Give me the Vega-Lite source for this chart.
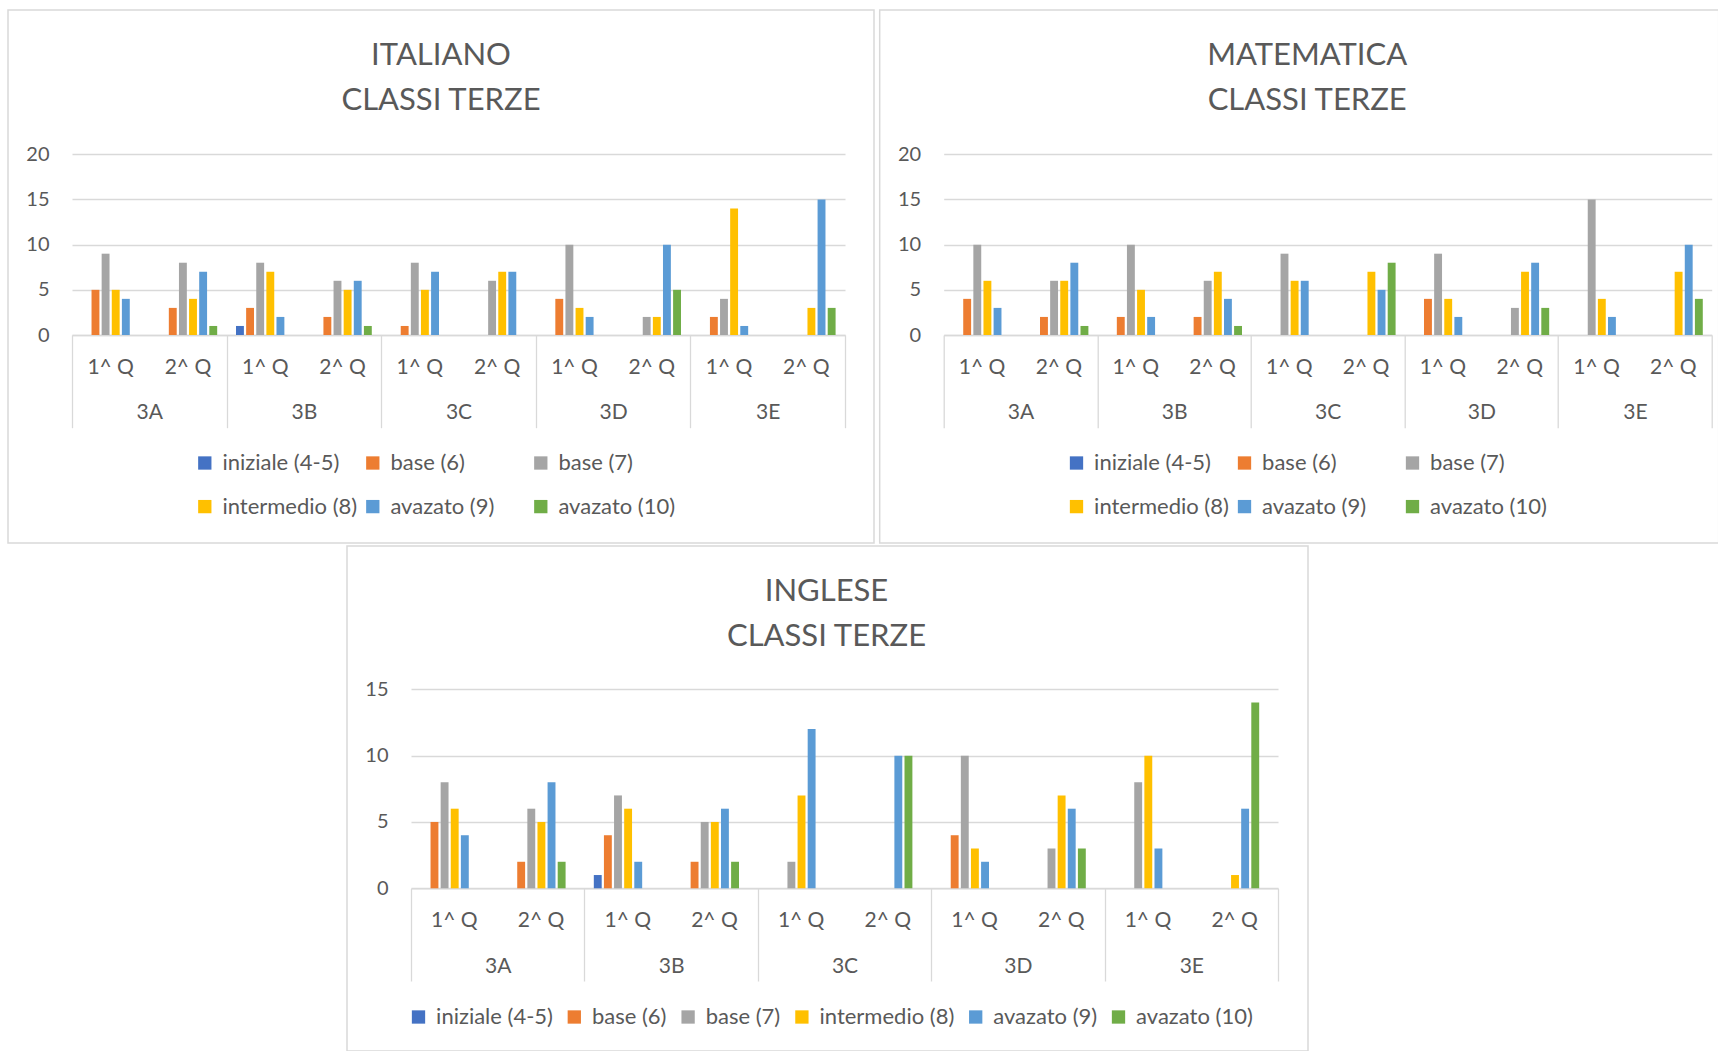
{
  "$schema": "https://vega.github.io/schema/vega-lite/v6.json",
  "background": "white",
  "padding": {"left": 7, "top": 9, "right": 0, "bottom": 0},
  "config": {
    "font": "Lato",
    "view": {"stroke": "#d9d9d9", "strokeWidth": 1.5},
    "axis": {"labelColor": "#595959", "labelFontSize": 21, "gridColor": "#d9d9d9", "gridWidth": 1.3, "domainColor": "#d9d9d9", "domainWidth": 1.3, "tickColor": "#d9d9d9", "tickWidth": 1.3, "labelAngle": 0, "labelOverlap": false, "title": null},
    "axisY": {"labelFontSize": 20},
    "title": {"fontSize": 31, "fontWeight": "normal", "color": "#595959", "anchor": "middle", "frame": "group", "baseline": "top", "offset": -106.5, "lineHeight": 45},
    "legend": {"title": null, "orient": "none", "direction": "horizontal", "symbolType": "square", "symbolSize": 177, "symbolStrokeWidth": 0, "labelFontSize": 22, "labelColor": "#595959", "labelOffset": 6.6, "padding": 0}
  },
  "datasets": {
    "ita": [
      {"c":"3A","cq":"3A 1^ Q","l":"base (6)","n":5},{"c":"3A","cq":"3A 1^ Q","l":"base (7)","n":9},{"c":"3A","cq":"3A 1^ Q","l":"intermedio (8)","n":5},{"c":"3A","cq":"3A 1^ Q","l":"avazato (9)","n":4},
      {"c":"3A","cq":"3A 2^ Q","l":"base (6)","n":3},{"c":"3A","cq":"3A 2^ Q","l":"base (7)","n":8},{"c":"3A","cq":"3A 2^ Q","l":"intermedio (8)","n":4},{"c":"3A","cq":"3A 2^ Q","l":"avazato (9)","n":7},{"c":"3A","cq":"3A 2^ Q","l":"avazato (10)","n":1},
      {"c":"3B","cq":"3B 1^ Q","l":"iniziale (4-5)","n":1},{"c":"3B","cq":"3B 1^ Q","l":"base (6)","n":3},{"c":"3B","cq":"3B 1^ Q","l":"base (7)","n":8},{"c":"3B","cq":"3B 1^ Q","l":"intermedio (8)","n":7},{"c":"3B","cq":"3B 1^ Q","l":"avazato (9)","n":2},
      {"c":"3B","cq":"3B 2^ Q","l":"base (6)","n":2},{"c":"3B","cq":"3B 2^ Q","l":"base (7)","n":6},{"c":"3B","cq":"3B 2^ Q","l":"intermedio (8)","n":5},{"c":"3B","cq":"3B 2^ Q","l":"avazato (9)","n":6},{"c":"3B","cq":"3B 2^ Q","l":"avazato (10)","n":1},
      {"c":"3C","cq":"3C 1^ Q","l":"base (6)","n":1},{"c":"3C","cq":"3C 1^ Q","l":"base (7)","n":8},{"c":"3C","cq":"3C 1^ Q","l":"intermedio (8)","n":5},{"c":"3C","cq":"3C 1^ Q","l":"avazato (9)","n":7},
      {"c":"3C","cq":"3C 2^ Q","l":"base (7)","n":6},{"c":"3C","cq":"3C 2^ Q","l":"intermedio (8)","n":7},{"c":"3C","cq":"3C 2^ Q","l":"avazato (9)","n":7},
      {"c":"3D","cq":"3D 1^ Q","l":"base (6)","n":4},{"c":"3D","cq":"3D 1^ Q","l":"base (7)","n":10},{"c":"3D","cq":"3D 1^ Q","l":"intermedio (8)","n":3},{"c":"3D","cq":"3D 1^ Q","l":"avazato (9)","n":2},
      {"c":"3D","cq":"3D 2^ Q","l":"base (7)","n":2},{"c":"3D","cq":"3D 2^ Q","l":"intermedio (8)","n":2},{"c":"3D","cq":"3D 2^ Q","l":"avazato (9)","n":10},{"c":"3D","cq":"3D 2^ Q","l":"avazato (10)","n":5},
      {"c":"3E","cq":"3E 1^ Q","l":"base (6)","n":2},{"c":"3E","cq":"3E 1^ Q","l":"base (7)","n":4},{"c":"3E","cq":"3E 1^ Q","l":"intermedio (8)","n":14},{"c":"3E","cq":"3E 1^ Q","l":"avazato (9)","n":1},
      {"c":"3E","cq":"3E 2^ Q","l":"intermedio (8)","n":3},{"c":"3E","cq":"3E 2^ Q","l":"avazato (9)","n":15},{"c":"3E","cq":"3E 2^ Q","l":"avazato (10)","n":3}
    ],
    "mat": [
      {"c":"3A","cq":"3A 1^ Q","l":"base (6)","n":4},{"c":"3A","cq":"3A 1^ Q","l":"base (7)","n":10},{"c":"3A","cq":"3A 1^ Q","l":"intermedio (8)","n":6},{"c":"3A","cq":"3A 1^ Q","l":"avazato (9)","n":3},
      {"c":"3A","cq":"3A 2^ Q","l":"base (6)","n":2},{"c":"3A","cq":"3A 2^ Q","l":"base (7)","n":6},{"c":"3A","cq":"3A 2^ Q","l":"intermedio (8)","n":6},{"c":"3A","cq":"3A 2^ Q","l":"avazato (9)","n":8},{"c":"3A","cq":"3A 2^ Q","l":"avazato (10)","n":1},
      {"c":"3B","cq":"3B 1^ Q","l":"base (6)","n":2},{"c":"3B","cq":"3B 1^ Q","l":"base (7)","n":10},{"c":"3B","cq":"3B 1^ Q","l":"intermedio (8)","n":5},{"c":"3B","cq":"3B 1^ Q","l":"avazato (9)","n":2},
      {"c":"3B","cq":"3B 2^ Q","l":"base (6)","n":2},{"c":"3B","cq":"3B 2^ Q","l":"base (7)","n":6},{"c":"3B","cq":"3B 2^ Q","l":"intermedio (8)","n":7},{"c":"3B","cq":"3B 2^ Q","l":"avazato (9)","n":4},{"c":"3B","cq":"3B 2^ Q","l":"avazato (10)","n":1},
      {"c":"3C","cq":"3C 1^ Q","l":"base (7)","n":9},{"c":"3C","cq":"3C 1^ Q","l":"intermedio (8)","n":6},{"c":"3C","cq":"3C 1^ Q","l":"avazato (9)","n":6},
      {"c":"3C","cq":"3C 2^ Q","l":"intermedio (8)","n":7},{"c":"3C","cq":"3C 2^ Q","l":"avazato (9)","n":5},{"c":"3C","cq":"3C 2^ Q","l":"avazato (10)","n":8},
      {"c":"3D","cq":"3D 1^ Q","l":"base (6)","n":4},{"c":"3D","cq":"3D 1^ Q","l":"base (7)","n":9},{"c":"3D","cq":"3D 1^ Q","l":"intermedio (8)","n":4},{"c":"3D","cq":"3D 1^ Q","l":"avazato (9)","n":2},
      {"c":"3D","cq":"3D 2^ Q","l":"base (7)","n":3},{"c":"3D","cq":"3D 2^ Q","l":"intermedio (8)","n":7},{"c":"3D","cq":"3D 2^ Q","l":"avazato (9)","n":8},{"c":"3D","cq":"3D 2^ Q","l":"avazato (10)","n":3},
      {"c":"3E","cq":"3E 1^ Q","l":"base (7)","n":15},{"c":"3E","cq":"3E 1^ Q","l":"intermedio (8)","n":4},{"c":"3E","cq":"3E 1^ Q","l":"avazato (9)","n":2},
      {"c":"3E","cq":"3E 2^ Q","l":"intermedio (8)","n":7},{"c":"3E","cq":"3E 2^ Q","l":"avazato (9)","n":10},{"c":"3E","cq":"3E 2^ Q","l":"avazato (10)","n":4}
    ],
    "ing": [
      {"c":"3A","cq":"3A 1^ Q","l":"base (6)","n":5},{"c":"3A","cq":"3A 1^ Q","l":"base (7)","n":8},{"c":"3A","cq":"3A 1^ Q","l":"intermedio (8)","n":6},{"c":"3A","cq":"3A 1^ Q","l":"avazato (9)","n":4},
      {"c":"3A","cq":"3A 2^ Q","l":"base (6)","n":2},{"c":"3A","cq":"3A 2^ Q","l":"base (7)","n":6},{"c":"3A","cq":"3A 2^ Q","l":"intermedio (8)","n":5},{"c":"3A","cq":"3A 2^ Q","l":"avazato (9)","n":8},{"c":"3A","cq":"3A 2^ Q","l":"avazato (10)","n":2},
      {"c":"3B","cq":"3B 1^ Q","l":"iniziale (4-5)","n":1},{"c":"3B","cq":"3B 1^ Q","l":"base (6)","n":4},{"c":"3B","cq":"3B 1^ Q","l":"base (7)","n":7},{"c":"3B","cq":"3B 1^ Q","l":"intermedio (8)","n":6},{"c":"3B","cq":"3B 1^ Q","l":"avazato (9)","n":2},
      {"c":"3B","cq":"3B 2^ Q","l":"base (6)","n":2},{"c":"3B","cq":"3B 2^ Q","l":"base (7)","n":5},{"c":"3B","cq":"3B 2^ Q","l":"intermedio (8)","n":5},{"c":"3B","cq":"3B 2^ Q","l":"avazato (9)","n":6},{"c":"3B","cq":"3B 2^ Q","l":"avazato (10)","n":2},
      {"c":"3C","cq":"3C 1^ Q","l":"base (7)","n":2},{"c":"3C","cq":"3C 1^ Q","l":"intermedio (8)","n":7},{"c":"3C","cq":"3C 1^ Q","l":"avazato (9)","n":12},
      {"c":"3C","cq":"3C 2^ Q","l":"avazato (9)","n":10},{"c":"3C","cq":"3C 2^ Q","l":"avazato (10)","n":10},
      {"c":"3D","cq":"3D 1^ Q","l":"base (6)","n":4},{"c":"3D","cq":"3D 1^ Q","l":"base (7)","n":10},{"c":"3D","cq":"3D 1^ Q","l":"intermedio (8)","n":3},{"c":"3D","cq":"3D 1^ Q","l":"avazato (9)","n":2},
      {"c":"3D","cq":"3D 2^ Q","l":"base (7)","n":3},{"c":"3D","cq":"3D 2^ Q","l":"intermedio (8)","n":7},{"c":"3D","cq":"3D 2^ Q","l":"avazato (9)","n":6},{"c":"3D","cq":"3D 2^ Q","l":"avazato (10)","n":3},
      {"c":"3E","cq":"3E 1^ Q","l":"base (7)","n":8},{"c":"3E","cq":"3E 1^ Q","l":"intermedio (8)","n":10},{"c":"3E","cq":"3E 1^ Q","l":"avazato (9)","n":3},
      {"c":"3E","cq":"3E 2^ Q","l":"intermedio (8)","n":1},{"c":"3E","cq":"3E 2^ Q","l":"avazato (9)","n":6},{"c":"3E","cq":"3E 2^ Q","l":"avazato (10)","n":14}
    ]
  },
  "spacing": 1,
  "resolve": {"scale": {"color": "independent"}, "legend": {"color": "independent"}},
  "vconcat": [
    {
      "spacing": 3.7,
      "resolve": {"scale": {"color": "independent"}, "legend": {"color": "independent"}},
      "hconcat": [
        {
          "width": 866, "height": 533,
          "title": {"text": ["ITALIANO", "CLASSI TERZE"], "dx": 0},
          "data": {"name": "ita"},
          "layer": [
            {
              "mark": {"type": "bar"},
              "encoding": {
                "x": {"field": "cq", "type": "nominal", "sort": null, "scale": {"range": [64, 837], "paddingInner": 0, "paddingOuter": 0},
                      "axis": {"orient": "bottom", "offset": -208, "labelExpr": "slice(datum.value, 3)", "labelPadding": 21.5, "ticks": false, "domain": true, "grid": false}},
                "xOffset": {"field": "l", "type": "nominal", "scale": {"domain": ["iniziale (4-5)", "base (6)", "base (7)", "intermedio (8)", "avazato (9)", "avazato (10)"], "paddingInner": 0.22, "paddingOuter": 0.93}},
                "y": {"field": "n", "type": "quantitative", "scale": {"domain": [0, 20], "range": [325, 144.3], "nice": false},
                      "axis": {"values": [0, 5, 10, 15, 20], "offset": -41, "domain": false, "ticks": false, "tickSize": 0, "labelPadding": 0, "grid": true}},
                "color": {"field": "l", "type": "nominal",
                          "scale": {"domain": ["iniziale (4-5)", "base (6)", "base (7)", "intermedio (8)", "avazato (9)", "avazato (10)"], "range": ["#4472C4", "#ED7D31", "#A5A5A5", "#FFC000", "#5B9BD5", "#70AD47"]},
                          "legend": {"legendX": 185.8, "legendY": 442, "columns": 3, "gridAlign": "all", "columnPadding": 4, "rowPadding": 21.6}}
              }
            },
            {
              "mark": {"type": "bar", "opacity": 0},
              "encoding": {
                "x": {"field": "c", "type": "nominal", "scale": {"range": [64, 837], "paddingInner": 0, "paddingOuter": 0},
                      "axis": {"orient": "bottom", "offset": -208, "tickBand": "extent", "ticks": true, "tickSize": 92.7, "labelPadding": -26, "domain": false, "grid": false}}
              }
            }
          ],
          "resolve": {"scale": {"x": "independent"}, "axis": {"x": "independent"}}
        },
        {
          "width": 839, "height": 533,
          "title": {"text": ["MATEMATICA", "CLASSI TERZE"], "dx": 8},
          "data": {"name": "mat"},
          "layer": [
            {
              "mark": {"type": "bar"},
              "encoding": {
                "x": {"field": "cq", "type": "nominal", "sort": null, "scale": {"range": [64, 832], "paddingInner": 0, "paddingOuter": 0},
                      "axis": {"orient": "bottom", "offset": -208, "labelExpr": "slice(datum.value, 3)", "labelPadding": 21.5, "ticks": false, "domain": true, "grid": false}},
                "xOffset": {"field": "l", "type": "nominal", "scale": {"domain": ["iniziale (4-5)", "base (6)", "base (7)", "intermedio (8)", "avazato (9)", "avazato (10)"], "paddingInner": 0.22, "paddingOuter": 0.93}},
                "y": {"field": "n", "type": "quantitative", "scale": {"domain": [0, 20], "range": [325, 144.3], "nice": false},
                      "axis": {"values": [0, 5, 10, 15, 20], "offset": -41, "domain": false, "ticks": false, "tickSize": 0, "labelPadding": 0, "grid": true}},
                "color": {"field": "l", "type": "nominal",
                          "scale": {"domain": ["iniziale (4-5)", "base (6)", "base (7)", "intermedio (8)", "avazato (9)", "avazato (10)"], "range": ["#4472C4", "#ED7D31", "#A5A5A5", "#FFC000", "#5B9BD5", "#70AD47"]},
                          "legend": {"legendX": 185.8, "legendY": 442, "columns": 3, "gridAlign": "all", "columnPadding": 4, "rowPadding": 21.6}}
              }
            },
            {
              "mark": {"type": "bar", "opacity": 0},
              "encoding": {
                "x": {"field": "c", "type": "nominal", "scale": {"range": [64, 832], "paddingInner": 0, "paddingOuter": 0},
                      "axis": {"orient": "bottom", "offset": -208, "tickBand": "extent", "ticks": true, "tickSize": 92.7, "labelPadding": -26, "domain": false, "grid": false}}
              }
            }
          ],
          "resolve": {"scale": {"x": "independent"}, "axis": {"x": "independent"}}
        }
      ]
    },
    {
      "spacing": 337,
      "resolve": {"scale": {"color": "independent"}, "legend": {"color": "independent"}},
      "hconcat": [
        {
          "width": 1, "height": 1,
          "view": {"stroke": null},
          "data": {"values": [{"a": 1}]},
          "mark": {"type": "text", "text": "", "fontSize": 0, "baseline": "top"},
          "encoding": {}
        },
        {
          "width": 961, "height": 505,
          "title": {"text": ["INGLESE", "CLASSI TERZE"], "dx": -1},
          "data": {"name": "ing"},
          "layer": [
            {
              "mark": {"type": "bar"},
              "encoding": {
                "x": {"field": "cq", "type": "nominal", "sort": null, "scale": {"range": [64, 931], "paddingInner": 0, "paddingOuter": 0},
                      "axis": {"orient": "bottom", "offset": -162.7, "labelExpr": "slice(datum.value, 3)", "labelPadding": 21.5, "ticks": false, "domain": true, "grid": false}},
                "xOffset": {"field": "l", "type": "nominal", "scale": {"domain": ["iniziale (4-5)", "base (6)", "base (7)", "intermedio (8)", "avazato (9)", "avazato (10)"], "paddingInner": 0.22, "paddingOuter": 0.93}},
                "y": {"field": "n", "type": "quantitative", "scale": {"domain": [0, 15], "range": [342.3, 143.3], "nice": false},
                      "axis": {"values": [0, 5, 10, 15], "offset": -41, "domain": false, "ticks": false, "tickSize": 0, "labelPadding": 0, "grid": true}},
                "color": {"field": "l", "type": "nominal",
                          "scale": {"domain": ["iniziale (4-5)", "base (6)", "base (7)", "intermedio (8)", "avazato (9)", "avazato (10)"], "range": ["#4472C4", "#ED7D31", "#A5A5A5", "#FFC000", "#5B9BD5", "#70AD47"]},
                          "legend": {"legendX": 60.5, "legendY": 460, "columns": 6, "gridAlign": "each", "columnPadding": 9.8}}
              }
            },
            {
              "mark": {"type": "bar", "opacity": 0},
              "encoding": {
                "x": {"field": "c", "type": "nominal", "scale": {"range": [64, 931], "paddingInner": 0, "paddingOuter": 0},
                      "axis": {"orient": "bottom", "offset": -162.7, "tickBand": "extent", "ticks": true, "tickSize": 92.7, "labelPadding": -26, "domain": false, "grid": false}}
              }
            }
          ],
          "resolve": {"scale": {"x": "independent"}, "axis": {"x": "independent"}}
        }
      ]
    }
  ]
}
